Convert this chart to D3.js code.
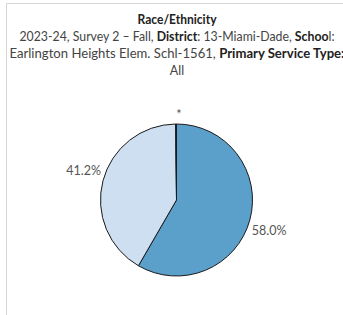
<!DOCTYPE html>
<html>
<head>
<meta charset="utf-8">
<script src="https://cdn.jsdelivr.net/npm/d3@7"></script>
<style>
  body { margin: 0; background: white; }
  svg { display: block; font-family: Lato, "Open Sans", sans-serif; }
</style>
</head>
<body>
<div id="viz"></div>
<script>
// Chart data
const groups = ['Group A', 'Group B', 'Suppressed'];
const shares = [58.0, 41.2, 0.2];
const shareLabels = ['58.0%', '41.2%', '*'];
const sliceColors = ['#5b9fcb', '#cddff0', '#a9cbe6'];

// Title lines: each piece is [text, bold]
const titleLines = [
    [['Race/Ethnicity', true]],
    [['2023-24, Survey 2 \u2013 Fall, ', false], ['District', true], [': 13-Miami-Dade, ', false], ['Schoo', true], ['l:', false]],
    [['Earlington Heights Elem. Schl-1561, ', false], ['Primary Service Type:', true]],
    [['All', false]]
];
const lineWidths = [79, 315, 335, null];

const width = 343,
      height = 315;
const cx = 176.5, cy = 200, radius = 76;

const svg = d3.select('#viz').append('svg')
    .attr('width', width)
    .attr('height', height);

// Frame lines (top and left)
svg.append('line')
    .attr('x1', 6).attr('x2', width).attr('y1', 3.5).attr('y2', 3.5)
    .attr('stroke', '#d6d6d6');
svg.append('line')
    .attr('x1', 6.5).attr('x2', 6.5).attr('y1', 3).attr('y2', height)
    .attr('stroke', '#d6d6d6');

// Title
titleLines.forEach((pieces, i) => {
    const t = svg.append('text')
        .attr('x', 177)
        .attr('y', 24 + i * 17)
        .attr('text-anchor', 'middle')
        .attr('font-size', '12.5px')
        .attr('fill', '#333');
    if (lineWidths[i]) {
        t.attr('textLength', lineWidths[i]).attr('lengthAdjust', 'spacingAndGlyphs');
    }
    pieces.forEach(p => {
        t.append('tspan')
            .attr('font-weight', p[1] ? 'bold' : 'normal')
            .attr('fill', p[1] ? '#222' : '#444')
            .text(p[0]);
    });
});

// Pie
const pie = d3.pie().sort(null).value(d => d);
const arcs = pie(shares);
const arc = d3.arc().innerRadius(0).outerRadius(radius);

const g = svg.append('g').attr('transform', `translate(${cx},${cy})`);

g.selectAll('path')
    .data(arcs)
    .enter().append('path')
        .attr('d', arc)
        .attr('fill', (d, i) => sliceColors[i])
        .attr('stroke', '#1a1a1a')
        .attr('stroke-width', 1)
        .attr('stroke-linejoin', 'round');

// Labels just outside the rim
g.selectAll('text')
    .data(arcs)
    .enter().append('text')
        .attr('font-size', '12.5px')
        .attr('fill', '#555')
        .each(function(d, i) {
            const a = (d.startAngle + d.endAngle) / 2;
            const x = (radius + 2) * Math.sin(a);
            const y = -(radius + 2) * Math.cos(a);
            const t = d3.select(this).text(shareLabels[i]);
            if (shareLabels[i] === '*') {
                t.attr('x', x + 3).attr('y', y - 3).attr('text-anchor', 'middle');
            } else if (x < 0) {
                t.attr('x', x).attr('y', y - 5.5).attr('text-anchor', 'end');
            } else {
                t.attr('x', x).attr('y', y + 14.5).attr('text-anchor', 'start');
            }
        });
</script>
</body>
</html>
